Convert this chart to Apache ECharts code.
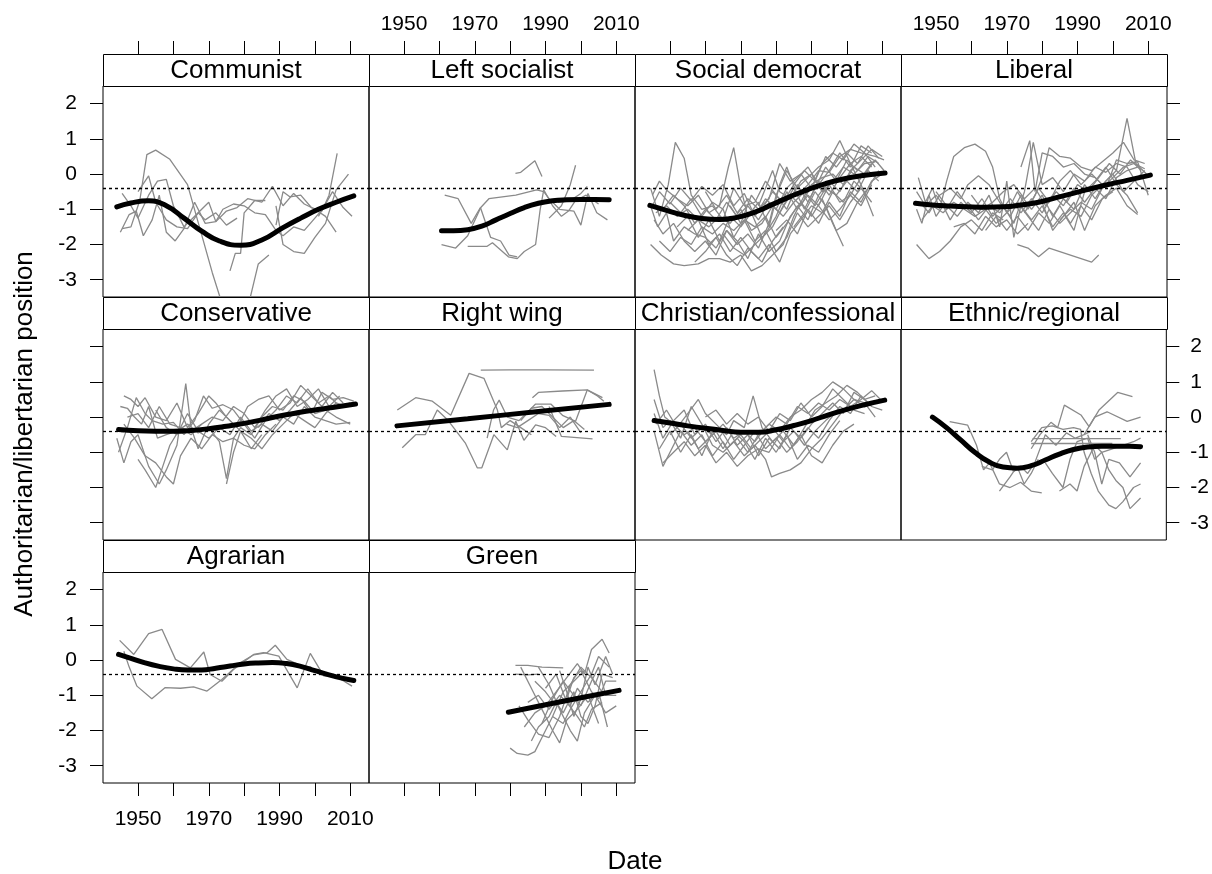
<!DOCTYPE html>
<html>
<head>
<meta charset="utf-8">
<script src="https://cdn.jsdelivr.net/npm/echarts@6/dist/echarts.min.js"></script>
<style>
  html, body { margin: 0; background: #fff; }
  #main { width: 1212px; height: 874px; }
</style>
</head>
<body>
<div id="main"></div>
<script>
// panel order as in the lattice (left to right, top to bottom)
const panelNames = ['Communist', 'Left socialist', 'Social democrat', 'Liberal',
  'Conservative', 'Right wing', 'Christian/confessional', 'Ethnic/regional',
  'Agrarian', 'Green'];
const yearTicks = [1950, 1960, 1970, 1980, 1990, 2000, 2010];
const yearLabels = [1950, 1970, 1990, 2010];
const valueTicks = [-3, -2, -1, 0, 1, 2];
const dottedLevel = -0.41;

// party trajectories [year, position], one array per party
const communistLines = [
  [[1945.5,-1.55],[1948,-1.5],[1950.5,-0.75],[1952.5,0.55],[1955,0.68],[1959,0.42],[1964,-0.3],[1967.5,-1.55],[1971,-2.8],[1973.5,-3.6]],
  [[1945.5,-0.55],[1948,-0.9],[1950,-1.25],[1953,-0.6],[1955.5,-0.2],[1958,-0.15],[1960,-0.9],[1963,-1.5],[1967,-1.1],[1970,-0.8],[1972,-1.35],[1975,-1.05],[1978,-0.95],[1981,-0.7],[1985,-0.8],[1988,-0.35],[1991,-0.9],[1994,-0.55],[1997,-0.85],[2000,-1.0],[2003,-1.2],[2006,-1.65]],
  [[1945,-1.65],[1947.5,-1.15],[1949.5,-1.05],[1951.5,-1.75],[1954,-1.3],[1956,-0.6],[1958,-1.65],[1960.5,-1.9],[1963,-1.55],[1966,-0.8],[1969,-1.4],[1972,-1.35],[1974,-1.0],[1977,-0.85],[1980,-0.9],[1983,-1.1],[1986,-1.15],[1989,-1.6],[1991,-1.75],[1994,-1.5],[1997,-1.6],[2000,-1.25],[2003,-0.9]],
  [[1950,-0.5],[1953,-0.05],[1955,-0.8],[1958,-1.3],[1961,-1.5],[1964,-1.55],[1967,-1.1],[1969,-1.3],[1972,-1.1],[1975,-1.45],[1978,-1.25]],
  [[1976,-2.75],[1977.5,-2.25],[1979,-2.25],[1980,-1.1],[1983,-0.75],[1986,-0.75]],
  [[1981.5,-3.6],[1984,-2.55],[1987,-2.3]],
  [[1989,-1.45],[1991,-0.5],[1993,-0.65],[1996,-0.6],[1999,-0.95],[2002,-1.05],[2004,-0.6],[2006.3,0.59]],
  [[1989,-0.9],[1991,-2.0],[1994,-2.2],[1997,-2.25],[2000,-1.8],[2003,-1.4],[2006,-0.45],[2009.5,0.0]],
  [[2001,-1.2],[2005,-0.5],[2008,-0.95],[2010.5,-1.2]]
];
const leftSocialistLines = [
  [[1961.5,-0.6],[1965.3,-0.7],[1969,-1.4],[1971.6,-0.95],[1974.5,-1.8],[1977.3,-1.9],[1979.7,-2.3],[1982,-2.35]],
  [[1960.6,-2.0],[1964.6,-2.1],[1968,-1.75],[1971.7,-0.95],[1974,-0.7],[1981.6,-0.6],[1987.5,-0.45],[1989.5,-0.5],[1991,-0.7],[1994,-1.0],[1998,-1.05],[2000,-1.45],[2002,-0.55],[2004.5,-1.1],[2007.5,-1.3]],
  [[1968,-2.05],[1973.5,-2.05],[1975,-1.95],[1979.5,-2.35],[1982,-2.4],[1984,-2.2],[1987.2,-2.0],[1988.5,-1.0],[1989.5,-0.45],[1992,-0.9],[1994.5,-1.2],[1996.5,-1.05],[1998.5,-0.75],[2001.5,-0.6],[2005,-0.85]],
  [[1981.5,0.02],[1983,0.05],[1987,0.38],[1989,-0.07]],
  [[1991,-1.25],[1994.5,-0.9],[1997,-0.3],[1998.5,0.25]],
  [[1993.5,-0.8],[1997,-0.75],[2000,-0.55],[2001.8,-0.35]]
];
const socialDemocratLines = [
  [[1944.5,-0.4],[1947,-1.2],[1949.5,-0.3],[1951.5,0.9],[1954,0.45],[1956,-0.6],[1959,-1.0],[1962,-0.9],[1965,-1.3],[1968,-0.4],[1971,-0.9],[1974,-0.8],[1977,-0.2],[1980,-0.6],[1983,0.1],[1986,-0.4],[1989,-0.1],[1992,0.2],[1995,0.4],[1998,0.95],[2001,0.3],[2004,0.5],[2007,0.2]],
  [[1944.5,-2.0],[1947.5,-2.3],[1951,-2.55],[1954,-2.6],[1958,-2.55],[1961,-2.4],[1964,-2.4],[1967,-2.5],[1970,-2.3],[1973,-2.75],[1976,-2.6],[1979,-2.3],[1982,-2.0],[1985,-1.2],[1988,-0.6],[1991,-0.3],[1994,-0.5]],
  [[1944.5,-0.9],[1946.5,-1.5],[1949,-1.1],[1951,-1.9],[1954,-1.5],[1957,-1.7],[1960,-1.8],[1963,-2.1],[1966,-1.6],[1969,-2.0],[1972,-1.7],[1975,-2.1],[1978,-1.4],[1980,-0.6],[1983,-1.0],[1986,-0.3],[1989,-0.8],[1992,-0.2],[1995,-0.6],[1998,-0.1],[2001,0.3],[2004,-0.3],[2007.5,-1.2]],
  [[1945,-0.6],[1947,-0.2],[1949,-0.45],[1952,-0.7],[1955,-0.9],[1958,-0.6],[1961,-1.1],[1964,-0.9],[1966.5,0.2],[1968,0.75],[1970,-0.4],[1972,-1.2],[1975,-0.8],[1978,-1.5],[1981,-0.3],[1983,0.2],[1986,-0.6],[1989,-0.3],[1992,0.1],[1995,0.05],[1998,0.5],[2001,0.7],[2004,0.6],[2008,0.5],[2010.5,0.4]],
  [[1945.5,-1.3],[1948,-1.7],[1951,-1.4],[1954,-1.9],[1957,-2.2],[1960,-1.9],[1963,-2.3],[1966,-1.6],[1969,-1.9],[1972,-2.4],[1975,-1.7],[1978,-2.2],[1981,-1.9],[1984,-1.2],[1987,-0.8],[1990,-1.2],[1993,-0.7],[1996,-1.4],[1999,-2.05]],
  [[1946,-1.1],[1949,-0.9],[1952,-1.2],[1955,-1.0],[1958,-1.3],[1961,-1.5],[1964,-1.2],[1967,-1.4],[1970,-1.0],[1973,-1.6],[1976,-1.4],[1979,-0.9],[1982,-1.2],[1985,-0.8],[1988,-0.5],[1991,-0.9],[1994,-0.4],[1997,-0.6],[2000,-0.2],[2003,-0.5],[2006,0.1],[2009,-0.2]],
  [[1950,-0.8],[1953,-1.1],[1956,-0.7],[1959,-1.2],[1962,-0.8],[1965,-1.0],[1968,-1.8],[1971,-1.3],[1974,-1.5],[1977,-1.2],[1980,-1.8],[1983,-1.4],[1986,-0.9],[1989,-1.3],[1992,-0.6],[1995,-0.2],[1998,-0.5],[2001,0.1],[2004,0.4],[2007,0.7],[2010,0.5]],
  [[1960,-0.5],[1963,-1.0],[1966,-0.6],[1969,-1.1],[1972,-0.7],[1975,-1.0],[1978,-0.7],[1981,0.3],[1984,-0.2],[1987,0.0],[1990,-0.4],[1993,0.3],[1996,0.6],[1999,0.4],[2002,0.85],[2005,0.6],[2008,0.2]],
  [[1947,-1.9],[1950,-2.2],[1953,-1.8],[1956,-2.0],[1959,-1.5],[1962,-1.7],[1965,-1.4],[1968,-1.6],[1971,-1.3],[1974,-1.9],[1977,-1.6],[1980,-2.2],[1983,-1.8],[1986,-1.1],[1989,-1.5],[1992,-1.2],[1995,-0.9],[1998,-1.3],[2001,-0.8],[2004,-0.4],[2007,-0.8]],
  [[1965,-1.7],[1968,-2.1],[1971,-2.3],[1974,-2.0],[1977,-1.7],[1980,-1.2],[1983,-0.5],[1986,-1.0],[1989,-0.6],[1992,-0.9],[1995,-0.3],[1998,-0.8],[2001,-0.6],[2004,-0.1],[2007,0.3]],
  [[1975,-0.9],[1977,-0.4],[1979,0.1],[1981,-0.5],[1984,-0.7],[1987,-0.2],[1990,0.0],[1993,-0.5],[1996,-0.2],[1999,0.2],[2002,0.0],[2005,0.3],[2008,0.35]],
  [[1985,-1.5],[1988,-1.1],[1991,-0.5],[1994,-0.9],[1997,-1.6],[2000,-1.4],[2003,-0.8],[2006,-0.4],[2009,0.1]],
  [[1948,-1.0],[1951,-0.6],[1954,-0.9],[1957,-1.4],[1960,-1.0],[1963,-1.3],[1966,-0.8],[1969,-1.2],[1972,-0.9],[1975,-1.3],[1978,-0.8],[1981,-1.1],[1984,-0.6],[1987,-0.9],[1990,-0.3],[1993,-0.1],[1996,0.0],[1999,-0.3],[2002,0.2],[2005,0.0],[2008,0.4],[2010.5,0.1]],
  [[1955,-1.6],[1958,-1.3],[1961,-2.0],[1964,-1.7],[1967,-2.2],[1970,-1.8],[1973,-2.2],[1976,-2.5],[1979,-1.9],[1982,-1.5]],
  [[1992,-0.9],[1995,-1.3],[1998,-1.0],[2001,-0.6],[2004,-0.9],[2007,-0.3]],
  [[1945,-0.9],[1947,-0.5],[1950,-0.85],[1953,-0.4],[1956,-0.75],[1959,-0.35],[1962,-0.6],[1965,-0.3],[1968,-0.9],[1971,-0.55],[1974,-1.2],[1977,-0.7],[1980,-1.0],[1983,-0.4],[1986,-0.1],[1989,0.2],[1992,-0.3],[1995,0.1],[1998,0.6],[2001,0.2],[2004,0.8],[2007,0.6]],
  [[1952,-1.5],[1955,-1.2],[1958,-1.8],[1961,-1.3],[1964,-1.9],[1967,-1.2],[1970,-1.5],[1973,-1.1],[1976,-1.8],[1979,-1.5],[1982,-0.9],[1985,-0.4],[1988,-1.0],[1991,-0.4],[1994,0.2],[1997,-0.2],[2000,0.4],[2003,0.1],[2006,0.5],[2009,0.3]],
  [[1957,-2.5],[1960,-2.2],[1963,-1.8],[1966,-2.3],[1969,-2.6],[1972,-2.1],[1975,-2.4],[1978,-2.0],[1981,-2.5],[1984,-1.7],[1987,-1.3],[1990,-0.9],[1993,-1.1],[1996,-0.5],[1999,-0.8],[2002,-0.2],[2005,-0.5]],
  [[1967,-0.9],[1970,-1.4],[1973,-0.6],[1976,-1.0],[1979,-0.5],[1982,-0.8],[1985,-0.3],[1988,0.1],[1991,-0.2],[1994,0.5],[1997,0.2],[2000,0.6],[2003,0.3],[2006,0.8],[2009,0.45]],
  [[1980,-1.6],[1983,-1.3],[1986,-1.7],[1989,-1.0],[1992,-1.4],[1995,-0.8],[1998,-1.2],[2001,-0.5],[2004,-0.8],[2007,-0.2],[2010,0.0]]
];
const liberalLines = [
  [[1944.5,-1.0],[1946,-1.4],[1948,-0.6],[1950,-1.2],[1952,-0.9],[1954,-1.3],[1957,-0.8],[1960,-1.1],[1963,-0.7],[1966,-1.2],[1969,-0.9],[1972,-1.4],[1975,-0.5],[1977.5,0.9],[1980,-0.3],[1983,-0.1],[1986,-0.5],[1989,0.0],[1992,-0.2],[1995,0.2],[1998,0.05],[2001,0.3],[2004,0.2],[2007,-0.3],[2010,-0.5]],
  [[1944.5,-2.0],[1948,-2.4],[1951,-2.2],[1954,-1.9],[1957,-1.5],[1960,-1.3],[1963,-1.6],[1966,-1.1],[1969,-1.3]],
  [[1945,-0.1],[1947,-0.8],[1949,-0.4],[1951,-1.0],[1953,-0.2],[1955,0.5],[1958,0.75],[1961,0.85],[1964,0.65],[1966,0.2],[1968,-0.7],[1970,-1.1],[1973,-0.5],[1976,-1.0],[1979,-0.4],[1982,-0.8],[1985,-0.2],[1988,0.1],[1991,-0.3],[1994,0.0],[1997,-0.3]],
  [[1945.5,-0.8],[1948,-1.1],[1951,-0.6],[1954,-0.4],[1957,-0.7],[1959,-0.3],[1962,-0.05],[1965,-0.3],[1968,-0.8],[1971,-1.2],[1974,-0.6],[1977,-1.0],[1980,-0.6],[1983,-1.2],[1986,-0.7],[1989,-1.0],[1992,-0.3],[1995,-0.7],[1998,-0.2],[2001,0.1],[2004,1.58],[2006.5,0.3],[2009.5,0.0]],
  [[1946,-1.3],[1949,-0.9],[1952,-1.1],[1955,-0.8],[1958,-1.0],[1961,-1.2],[1964,-1.0],[1967,-1.4],[1970,-1.1],[1973,-0.8],[1976,-1.2],[1979,-1.6],[1982,-1.0],[1985,-1.4],[1988,-1.1],[1991,-0.8],[1994,-1.0],[1997,-0.4],[2000,-0.1],[2003,0.2],[2006,0.3],[2009,0.15]],
  [[1950,-0.5],[1953,-0.9],[1956,-1.2],[1959,-0.8],[1962,-1.1],[1965,-0.6],[1968,-1.5],[1970,-0.2],[1972,-1.8],[1974,-0.9],[1977,-1.3],[1980,-0.9],[1983,-1.5],[1986,-1.1],[1989,-1.6],[1992,-0.5],[1995,-0.2],[1998,0.2],[2001,-0.3],[2004,-0.6],[2007,-1.1]],
  [[1973,-2.0],[1976,-2.1],[1979,-2.35],[1982,-2.1],[1985,-2.2],[1988,-2.3],[1991,-2.4],[1994,-2.5],[1996,-2.3]],
  [[1974,0.2],[1976.5,0.95],[1978,-0.5],[1980,0.6],[1983,0.5],[1986,0.2],[1989,0.3],[1992,0.0],[1995,-0.1],[1998,-0.4],[2001,0.4],[2004,0.3],[2007,0.35],[2010,-0.6]],
  [[1980,-0.8],[1983,-1.6],[1986,-1.2],[1989,-0.8],[1992,-1.6],[1995,-0.9],[1998,-0.6],[2001,-0.4],[2004,-0.9],[2007,-1.15]],
  [[1960,-0.6],[1963,-1.0],[1966,-0.8],[1969,-0.5],[1972,-0.3],[1975,-0.7],[1978,-0.4],[1981,-0.9],[1984,-0.5],[1987,-0.8],[1990,-0.3],[1993,-0.5],[1996,-0.1],[1999,0.3],[2002,0.0],[2005,0.4],[2008,0.1]],
  [[1955,-1.5],[1958,-1.4],[1961,-1.7],[1964,-1.2],[1967,-1.5],[1970,-1.3],[1973,-1.7],[1976,-1.4]],
  [[1985,-1.3],[1988,-1.0],[1991,-1.2],[1994,-0.6],[1997,-0.3],[2000,0.0],[2003,-0.5],[2006,-0.2],[2009,0.1]],
  [[1944.5,-0.5],[1947,-0.9],[1950,-0.6],[1953,-1.0],[1956,-0.5],[1959,-0.9],[1962,-1.3],[1965,-0.9],[1968,-1.1],[1971,-0.7],[1974,-1.1],[1977,-0.7],[1980,-1.1],[1983,-0.6],[1986,-0.9],[1989,-0.4],[1992,-0.8],[1995,-0.4],[1998,-0.7],[2001,-0.1],[2004,0.1],[2007,0.2]],
  [[1964,-1.6],[1967,-1.2],[1970,-1.6],[1973,-1.2],[1976,-1.6],[1979,-1.1],[1982,-1.4],[1985,-0.9],[1988,-1.4],[1991,-0.9],[1994,-1.3],[1997,-0.7],[2000,-0.5]],
  [[1975,-1.1],[1978,-0.6],[1980,-0.1],[1982,0.75],[1985,0.5],[1988,0.45],[1991,0.2],[1994,0.1],[1997,0.35],[2000,0.6],[2003,0.9],[2006,0.4],[2009,0.3]]
];
const conservativeLines = [
  [[1944,-0.6],[1946,-1.3],[1948,-0.7],[1950,-0.5],[1953,-1.4],[1956,-1.9],[1958,-1.5],[1961,-0.8],[1963.5,0.95],[1965,-0.3],[1967,-0.9],[1970,-0.2],[1973,0.2],[1976,-0.1],[1979,-0.4],[1982,-0.9],[1985,-0.5]],
  [[1945,0.3],[1947,0.25],[1949,0.0],[1951,-0.2],[1953,0.3],[1955.5,-0.6],[1958,-0.5],[1961,-0.4],[1964,-0.2],[1967,-0.45],[1970,-0.3],[1973,-0.7],[1975,-1.75],[1977,-0.6],[1979,-0.3],[1982,-0.5],[1985,0.0],[1988,0.3],[1991,0.2],[1994,0.6],[1997,0.45],[2000,0.1],[2003,0.2],[2006,0.0],[2010,-0.2]],
  [[1944.5,-1.0],[1947,-0.3],[1949.5,0.55],[1952,0.1],[1954,-0.1],[1957,-0.2],[1960,-0.15],[1963,-0.5],[1966,-0.1],[1968.5,0.6],[1971,0.25],[1974,0.35],[1977,0.2],[1980,-0.2],[1983,-0.6],[1986,-0.1],[1989,0.2],[1992,0.6],[1995,0.4],[1998,0.8],[2001,0.4],[2004,0.6],[2007,0.3],[2010,0.4]],
  [[1946,-0.2],[1949,-0.6],[1952,-1.1],[1955,-1.3],[1958,-1.7],[1960,-1.9],[1962,-1.1],[1965,-0.6],[1968,-0.9],[1971,-0.5],[1974,-0.7],[1977,-0.6],[1980,-0.8],[1983,-0.9],[1986,-0.5],[1989,-0.2]],
  [[1947,0.0],[1950,0.1],[1953,-0.3],[1956,0.3],[1959,-0.2],[1962,-0.3],[1965,-0.5],[1968,-0.2],[1971,0.0],[1974,-0.1],[1977,0.3],[1980,0.1],[1983,-0.3],[1986,0.2],[1989,0.6],[1992,0.8],[1995,0.3],[1998,0.5],[2001,0.8],[2004,0.3],[2007,0.6]],
  [[1950,-1.2],[1952,-1.5],[1955,-2.0],[1957,-1.4],[1959,-0.8],[1962,-0.3],[1965,-0.4],[1968,-0.2]],
  [[1975,-1.9],[1977,-1.0],[1979,-0.4],[1982,-0.6],[1985,-0.9],[1988,-0.5],[1991,-0.2],[1994,0.1],[1997,-0.1],[2000,-0.3],[2003,0.1],[2006,0.4],[2009,0.3]],
  [[1984,-0.3],[1987,0.1],[1990,-0.1],[1993,0.2],[1996,0.55],[1999,0.1],[2002,0.7],[2005,0.5],[2008,0.55],[2011,0.45]],
  [[1955,0.2],[1958,-0.3],[1961,-0.5],[1964,0.1],[1967,-0.4],[1970,-0.6],[1973,-0.3],[1976,-0.5],[1979,0.0],[1982,-0.4],[1985,-0.2],[1988,-0.4],[1991,0.0],[1994,-0.2],[1997,0.3],[2000,0.0],[2003,-0.1],[2006,-0.2],[2010,-0.15]],
  [[1946,0.6],[1948,0.5],[1950,0.3],[1952,0.55],[1955,0.0],[1958,-0.1],[1961,0.4],[1964,-0.3],[1967,0.1],[1970,0.6],[1972,0.4],[1975,0.0],[1978,-0.3],[1981,0.3],[1984,0.5],[1987,0.6],[1990,0.2],[1993,0.4],[1996,0.9],[1999,0.6],[2002,0.3],[2005,0.7],[2008,0.4]]
];
const rightWingLines = [
  [[1971.7,1.33],[1980,1.34],[1990,1.34],[2003.7,1.33]],
  [[1948.1,0.2],[1953.3,0.55],[1958,0.45],[1963.2,0.05],[1968.4,1.24],[1972.6,1.1],[1976.4,0.2],[1977.5,-0.3],[1980,-0.1],[1983,-0.3],[1986,-0.5]],
  [[1949.5,-0.87],[1953.3,-0.5],[1956,-0.5],[1959.4,0.2],[1962.5,-0.1],[1967.4,-0.75],[1970.7,-1.44],[1972,-1.44],[1975.4,-0.5],[1979.2,-0.93],[1981.6,-0.12],[1983.9,-0.66],[1987.2,-0.22],[1990,-0.3],[1993,-0.55]],
  [[1986.3,0.55],[1988,0.7],[1994.8,0.74],[2001.8,0.77],[2006.1,0.55]],
  [[1973.5,-0.6],[1975.3,0.2],[1976.9,0.48],[1979.2,0.0],[1982.5,-0.1],[1987.2,0.37],[1991.5,0.37],[1994.8,0.05],[1998.5,-0.12],[2001.8,0.77],[2004.7,0.6],[2006.5,0.45]],
  [[1991,0.3],[1994.5,-0.55],[2003.3,-0.62]],
  [[1979,-0.2],[1982,-0.3],[1985,-0.1],[1988,0.1],[1991,0.05],[1994,-0.3],[1997,0.0],[2000,-0.45]],
  [[1983,-0.1],[1986,0.25],[1989,0.3],[1992,0.0],[1995,-0.3],[1998,-0.1],[2001,-0.35]]
];
const christianLines = [
  [[1945.5,1.35],[1947,0.6],[1948.5,0.0],[1951,-0.2],[1954,-0.5],[1957,-0.3],[1960,-0.7],[1963,-0.4],[1966,-0.9],[1969,-0.6],[1972,-1.0],[1975,-0.5],[1978,-0.2],[1981,-0.4],[1984,0.0],[1987,0.2],[1990,0.5],[1993,0.7],[1996,1.0],[1999,0.8],[2002,0.5],[2005,0.3]],
  [[1945.5,0.5],[1948,-0.3],[1950,-0.1],[1953,-0.6],[1956,0.3],[1959,-0.2],[1962,-0.8],[1965,-1.0],[1968,-0.7],[1971,-1.1],[1974,-0.8],[1977,-1.2],[1978.7,-1.7],[1981,-1.6],[1984,-1.5],[1987,-1.3],[1990,-0.9],[1993,-0.6],[1996,-0.2],[1999,0.2],[2002,0.5],[2005,0.4],[2008,0.0]],
  [[1945.5,-0.4],[1948,-1.4],[1950.5,-0.9],[1953,-0.4],[1956,-0.8],[1959,-0.5],[1962,-1.1],[1965,-0.7],[1968,-1.2],[1971,-0.8],[1974,-0.4],[1977,-0.9],[1980,-0.6],[1983,-1.0],[1986,-0.7],[1989,-0.3],[1992,-0.6],[1995,-0.1],[1998,0.3],[2001,0.1],[2004,0.6],[2007,0.3],[2010,0.2]],
  [[1946,-0.2],[1949,0.2],[1952,-0.3],[1955,0.1],[1958,0.5],[1960,0.1],[1963,-0.2],[1966,-0.5],[1968,-0.1],[1971,-0.3],[1973.5,0.6],[1976,-0.3],[1979,-0.7],[1982,-0.4],[1985,-0.8],[1988,-0.3],[1991,0.2],[1994,0.4],[1997,0.6],[2000,0.9],[2003,0.7],[2006,0.4]],
  [[1948,-1.3],[1951,-1.0],[1954,-0.7],[1957,-1.1],[1960,-0.8],[1963,-1.3],[1966,-1.0],[1969,-1.4],[1972,-1.1],[1975,-0.9],[1978,-1.0],[1981,-0.5],[1984,-0.9],[1987,-0.5],[1990,-1.1],[1993,-1.3],[1996,-0.8],[1999,-0.4],[2002,-0.2]],
  [[1950,-0.5],[1953,-0.2],[1956,-0.6],[1959,-0.3],[1962,-0.5],[1965,-0.2],[1968,-0.6],[1971,-0.4],[1974,-0.7],[1977,-0.3],[1980,0.0],[1983,-0.2],[1986,0.3],[1989,0.1],[1992,0.4],[1995,0.2],[1998,0.5],[2001,0.3],[2004,0.5],[2007,0.75],[2010,0.45]],
  [[1955,-0.4],[1958,-0.9],[1961,-0.6],[1964,-0.3],[1967,-0.8],[1970,-0.5],[1973,-0.9],[1976,-0.6],[1979,-0.3],[1982,-0.7],[1985,-0.4],[1988,-0.8],[1991,-0.4],[1994,-0.1],[1997,0.15]],
  [[1960,0.0],[1963,0.2],[1966,-0.2],[1969,0.1],[1972,-0.2],[1975,0.0],[1978,-0.4],[1981,0.1],[1984,-0.1],[1987,0.4],[1990,0.0],[1993,0.3],[1996,0.8],[1999,0.5],[2002,0.2],[2005,0.1]],
  [[1945.5,0.1],[1948,-0.6],[1951,-0.1],[1954,0.2],[1957,-0.5],[1960,-0.2],[1963,-0.7],[1966,-0.3],[1969,-0.8],[1972,-0.5],[1975,-1.1],[1978,-0.6],[1981,-0.9],[1984,-0.3],[1987,-0.6],[1990,-0.2],[1993,0.1],[1996,0.4],[1999,0.1],[2002,0.7],[2005,0.5],[2008,0.6]],
  [[1947,-0.9],[1950,-0.4],[1953,-1.0],[1956,-0.5],[1959,-1.1],[1962,-0.4],[1965,-0.9],[1968,-0.4],[1971,-0.7],[1974,-1.2],[1977,-0.6],[1980,-1.0],[1983,-0.5],[1986,-1.2],[1989,-0.8],[1992,-1.0],[1995,-0.5],[1998,-0.1]]
];
const ethnicLines = [
  [[1953.9,-0.13],[1959,-0.23],[1961.5,-0.8],[1963.5,-1.5],[1965.2,-1.3],[1968,-1.9],[1971,-2.0],[1974,-1.85],[1977,-2.1],[1980,-2.15]],
  [[1963,-1.4],[1966,-1.5],[1968,-1.2],[1970,-1.0],[1972,-1.55],[1974,-1.4],[1976,-1.6],[1978,-1.3],[1981,-0.5],[1984,-0.8],[1987,-0.45],[1989.5,-0.6],[1992,-0.5],[1994,-0.4]],
  [[1968,-2.1],[1971,-1.7],[1973,-1.4],[1975,-1.9],[1977,-1.6],[1979,-1.2]],
  [[1977,-0.9],[1979.5,-0.5],[1982.6,-0.15],[1984.5,-0.3],[1986.4,0.34],[1991.1,0.06],[1993.4,-0.27],[1996.3,0.21],[2001.5,0.7],[2005.7,0.58]],
  [[1992,-0.5],[1995,0.0],[1998.5,0.15],[2004.2,-0.12],[2008,0.0]],
  [[1977,-0.7],[1980,-0.3],[1983,-0.25],[1986,-0.35],[1989,-0.3],[1991,-0.35],[1992,-1.0],[1994,-1.6],[1996,-2.1],[1999,-2.5],[2001,-2.6],[2003,-2.4],[2006,-2.0],[2008,-1.9]],
  [[1977.4,-0.61],[2002.4,-0.61]],
  [[1977,-0.75],[2000,-0.75]],
  [[1981,-1.3],[1983,-1.6],[1986,-2.0],[1988,-1.2],[1990,-0.7],[1993,-0.6],[1995,-1.2],[1997,-1.0],[1999,-1.5],[2001,-1.8],[2003,-2.0],[2005,-2.6],[2008,-2.3]],
  [[1985,-2.1],[1988,-1.9],[1990,-2.1],[1992,-1.4],[1995,-0.8],[1997,-1.0],[2000,-0.9],[2003,-0.8],[2006,-0.7],[2008,-0.6]],
  [[1993,-0.5],[1995,-1.0],[1997,-1.9],[1999,-1.2],[2002,-1.3],[2005,-1.7],[2008,-1.3]]
];
const agrarianLines = [
  [[1944.8,0.56],[1948.8,0.16],[1953,0.75],[1956.8,0.87],[1960.6,0.02],[1964.8,-0.22],[1968.6,0.23],[1970.4,-0.41],[1973.7,-0.6],[1977,-0.27],[1982.7,0.16],[1985.5,0.21],[1989.8,0.11],[1995,-0.79],[1998.7,0.19],[2002.5,-0.45],[2006.3,-0.48],[2010.5,-0.74]],
  [[1946,0.25],[1947.5,-0.2],[1949.7,-0.74],[1953.9,-1.1],[1957.7,-0.78],[1962,-0.8],[1965.7,-0.76],[1969.5,-0.88],[1973.7,-0.55],[1978.9,-0.08],[1982.7,0.15],[1986.5,0.21],[1988.8,0.42],[1992.1,0.02],[1995.9,-0.15],[1999,-0.2]]
];
const greenLines = [
  [[1981.5,-0.15],[1985,-0.15],[1989,-0.2],[1995,-0.22]],
  [[1981.5,-0.4],[1985,-0.42],[1988,-0.4]],
  [[1980,-2.5],[1982,-2.65],[1985,-2.7],[1987,-2.6],[1989,-2.2],[1992,-1.6],[1995,-0.9],[1998,-0.6],[2001,-0.3]],
  [[1983,-0.2],[1986,-0.8],[1989,-1.4],[1992,-2.0],[1994,-2.35],[1996,-1.7],[1999,-1.4],[2002,-1.0],[2005,-1.8]],
  [[1984,-1.9],[1987,-1.5],[1990,-1.3],[1993,-0.9],[1996,-0.5],[1999,-0.1],[2001,-0.4],[2003,0.3],[2006,0.59],[2008,0.2]],
  [[1985,-1.2],[1988,-1.0],[1991,-1.4],[1994,-1.0],[1997,-1.3],[1999,-0.8],[2002,-1.2],[2005,-0.9],[2007.5,-1.9]],
  [[1986,-2.3],[1988,-1.9],[1991,-1.6],[1993,-1.2],[1995,-1.5],[1998,-0.9],[2000,-1.6],[2002,-1.8],[2004,-1.3],[2006,-0.4],[2009,-0.5]],
  [[1987,-0.6],[1990,-0.9],[1993,-1.3],[1996,-1.1],[1998,-0.5],[2000,-0.3],[2003,-0.9],[2005,-1.1],[2007,-0.6],[2010,-0.6]],
  [[1989,-1.8],[1992,-1.1],[1995,-0.6],[1998,-1.0],[2000,-1.3],[2003,-0.6],[2005,-0.2],[2007,-1.0],[2010,-1.0]],
  [[1990,-0.8],[1993,-0.4],[1996,-1.2],[1999,-1.6],[2001,-1.9],[2003,-1.4],[2006,-1.2]],
  [[1992,-1.6],[1995,-1.8],[1997,-1.4],[2000,-0.9],[2003,-0.4],[2005,0.1],[2008,-0.2]],
  [[1982.5,-1.3],[1985,-1.7],[1988,-2.1],[1991,-2.2],[1994,-1.6],[1997,-0.7],[2000,-0.2],[2003,-0.5],[2006,-0.9]],
  [[1988,-0.2],[1991,-0.7],[1994,-1.4],[1997,-2.0],[1999,-2.3],[2001,-1.5],[2004,-1.0],[2007,-1.5],[2010,-1.3]],
  [[1994,-0.3],[1996,-0.9],[1998,-1.6],[2000,-1.1],[2002,-0.2],[2004,-0.7],[2007,0.1],[2009,-0.4]]
];

// smoothed family trends
const communistTrend = [[1944,-0.93],[1948,-0.82],[1953,-0.76],[1958,-0.9],[1963,-1.25],[1968,-1.62],[1973,-1.9],[1979,-2.02],[1985,-1.87],[1991,-1.52],[1996,-1.25],[2001,-1.0],[2006,-0.8],[2011,-0.62]];
const leftSocialistTrend = [[1960.6,-1.61],[1964,-1.61],[1968,-1.58],[1972,-1.48],[1976,-1.3],[1980,-1.12],[1984,-0.95],[1988,-0.83],[1992,-0.76],[1996,-0.73],[2000,-0.72],[2004,-0.72],[2008,-0.73]];
const socialDemocratTrend = [[1944.3,-0.89],[1949,-1.03],[1954,-1.17],[1959,-1.26],[1964,-1.29],[1969,-1.23],[1974,-1.08],[1979,-0.86],[1984,-0.64],[1989,-0.44],[1994,-0.27],[1999,-0.14],[2004,-0.05],[2010.8,0.03]];
const liberalTrend = [[1944.2,-0.83],[1949,-0.88],[1954,-0.91],[1959,-0.93],[1964,-0.94],[1969,-0.93],[1974,-0.88],[1979,-0.8],[1984,-0.67],[1989,-0.54],[1994,-0.41],[1999,-0.29],[2004,-0.18],[2010.6,-0.03]];
const conservativeTrend = [[1944.5,-0.35],[1950,-0.39],[1955,-0.4],[1960,-0.4],[1965,-0.38],[1970,-0.33],[1975,-0.26],[1980,-0.18],[1985,-0.08],[1990,0.03],[1995,0.12],[2000,0.2],[2005,0.27],[2011.5,0.37]];
const rightWingTrend = [[1948,-0.25],[1968,-0.05],[1988,0.16],[2008,0.36]];
const christianTrend = [[1945.5,-0.1],[1950,-0.17],[1955,-0.25],[1960,-0.32],[1965,-0.38],[1970,-0.43],[1975,-0.43],[1980,-0.36],[1985,-0.24],[1990,-0.1],[1995,0.07],[2000,0.22],[2005,0.35],[2010.7,0.48]];
const ethnicTrend = [[1949,0.0],[1953,-0.3],[1957,-0.65],[1961,-1.0],[1965,-1.27],[1969,-1.42],[1973,-1.45],[1977,-1.38],[1981,-1.22],[1985,-1.05],[1989,-0.92],[1993,-0.85],[1997,-0.83],[2001,-0.83],[2005,-0.83],[2008,-0.84]];
const agrarianTrend = [[1944.5,0.16],[1948,0.05],[1952,-0.08],[1956,-0.18],[1960,-0.25],[1964,-0.28],[1968,-0.28],[1972,-0.23],[1976,-0.17],[1980,-0.11],[1984,-0.08],[1988,-0.07],[1992,-0.1],[1996,-0.18],[2000,-0.3],[2004,-0.42],[2008,-0.52],[2011,-0.58]];
const greenTrend = [[1979.5,-1.48],[1990,-1.27],[2000,-1.07],[2010.8,-0.86]];

const panelLines = [communistLines, leftSocialistLines, socialDemocratLines, liberalLines,
  conservativeLines, rightWingLines, christianLines, ethnicLines, agrarianLines, greenLines];
const panelTrends = [communistTrend, leftSocialistTrend, socialDemocratTrend, liberalTrend,
  conservativeTrend, rightWingTrend, christianTrend, ethnicTrend, agrarianTrend, greenTrend];

// layout
const X_MIN = 1940.1, X_MAX = 2015.3, Y_MIN = -3.49, Y_MAX = 2.5;
const colLeft = [103, 369, 635, 901];
const rowTop = [86, 329, 572];
const PW = 266, PH = 211, STRIP = 32;
const FONT = '"Liberation Sans", Arial, Helvetica, sans-serif';

// which outer axes each panel carries: 'ticks' or 'labels'
const topAxis = {0: 'ticks', 1: 'labels', 2: 'ticks', 3: 'labels'};
const bottomAxis = {8: 'labels', 9: 'ticks'};
const leftAxis = {0: 'labels', 4: 'ticks', 8: 'labels'};
const rightAxis = {3: 'ticks', 7: 'labels', 9: 'ticks'};

const myChart = echarts.init(document.getElementById('main'), null, {renderer: 'canvas'});

function xAxisFor(i, position, mode, offset) {
  return {
    gridIndex: i, type: 'value', min: X_MIN, max: X_MAX, position: position, offset: offset || 0,
    axisLine: {show: false, onZero: false}, splitLine: {show: false},
    axisTick: {show: !!mode, customValues: yearTicks, length: 13, lineStyle: {color: '#000', width: 1}},
    axisLabel: {show: mode === 'labels', customValues: yearLabels, margin: position === 'top' ? 19 : 26,
      color: '#000', fontSize: 21, fontFamily: FONT, formatter: v => String(v)}
  };
}
function yAxisFor(i, position, mode) {
  return {
    gridIndex: i, type: 'value', min: Y_MIN, max: Y_MAX, position: position,
    axisLine: {show: false, onZero: false}, splitLine: {show: false},
    axisTick: {show: !!mode, customValues: valueTicks, length: 13, lineStyle: {color: '#000', width: 1}},
    axisLabel: {show: mode === 'labels', customValues: valueTicks, margin: position === 'left' ? 26 : 24,
      color: '#000', fontSize: 21, fontFamily: FONT, formatter: v => String(v),
      align: position === 'left' ? 'right' : 'left'}
  };
}

let grid = [], xAxis = [], yAxis = [], series = [], graphic = [];
panelNames.forEach((name, i) => {
  const r = Math.floor(i / 4), c = i % 4;
  const left = colLeft[c], top = rowTop[r];
  grid.push({left: left, top: top, width: PW, height: PH, show: true,
    borderColor: '#000', borderWidth: 1, backgroundColor: 'transparent'});

  const xi = xAxis.length;
  xAxis.push(xAxisFor(i, 'bottom', bottomAxis[i]));
  if (topAxis[i]) xAxis.push(xAxisFor(i, 'top', topAxis[i], STRIP));
  const yi = yAxis.length;
  yAxis.push(yAxisFor(i, 'left', leftAxis[i]));
  if (rightAxis[i]) yAxis.push(yAxisFor(i, 'right', rightAxis[i]));

  panelLines[i].forEach(line => {
    series.push({
      type: 'line', xAxisIndex: xi, yAxisIndex: yi, data: line,
      symbol: 'none', silent: true, z: 2,
      lineStyle: {color: '#8a8a8a', width: 1.3}
    });
  });
  series.push({
    type: 'line', xAxisIndex: xi, yAxisIndex: yi, data: panelTrends[i],
    symbol: 'none', silent: true, smooth: true, z: 4,
    lineStyle: {color: '#000', width: 5, cap: 'round'},
    markLine: {
      silent: true, symbol: ['none', 'none'], label: {show: false}, z: 3,
      lineStyle: {color: '#000', type: [3, 3], width: 1.3},
      data: [{yAxis: dottedLevel}]
    }
  });

  // strip above the panel
  graphic.push({
    type: 'rect', left: left, top: top - STRIP, z: 10,
    shape: {width: PW, height: STRIP},
    style: {fill: '#fff', stroke: '#000', lineWidth: 1}
  });
  graphic.push({
    type: 'text', x: left + PW / 2, y: top - STRIP / 2 + 1, z: 11,
    style: {text: name, font: '26px ' + FONT, fill: '#000',
      align: 'center', verticalAlign: 'middle', textAlign: 'center', textVerticalAlign: 'middle'}
  });
});

graphic.push({
  type: 'text', x: 635, y: 862, z: 11,
  style: {text: 'Date', font: '26px ' + FONT, fill: '#000',
    align: 'center', verticalAlign: 'middle', textAlign: 'center', textVerticalAlign: 'middle'}
});
graphic.push({
  type: 'text', x: 25, y: 434, rotation: Math.PI / 2, z: 11,
  style: {text: 'Authoritarian/libertarian position', font: '26px ' + FONT, fill: '#000',
    align: 'center', verticalAlign: 'middle', textAlign: 'center', textVerticalAlign: 'middle'}
});

const option = {
  animation: false,
  backgroundColor: '#fff',
  textStyle: {fontFamily: FONT},
  grid: grid,
  xAxis: xAxis,
  yAxis: yAxis,
  series: series,
  graphic: graphic
};
myChart.setOption(option);
window.addEventListener('resize', myChart.resize, {passive: true});
</script>
</body>
</html>
